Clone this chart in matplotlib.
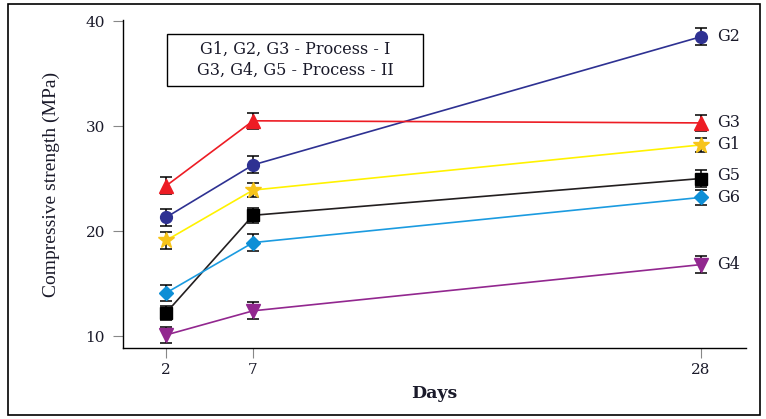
import numpy as np
import matplotlib.pyplot as plt
from matplotlib.patches import Rectangle

days = [2, 7, 28]
groups = ['G1', 'G2', 'G3', 'G4', 'G5', 'G6']
g1 = [19.1, 23.9, 28.2]
g2 = [21.3, 26.3, 38.5]
g3 = [24.3, 30.5, 30.3]
g4 = [10.1, 12.4, 16.8]
g5 = [12.2, 21.5, 25.0]
g6 = [14.1, 18.9, 23.2]
g1_err = [0.8, 0.7, 0.7]
g2_err = [0.8, 0.8, 0.8]
g3_err = [0.8, 0.75, 0.75]
g4_err = [0.75, 0.8, 0.8]
g5_err = [0.7, 0.7, 0.85]
g6_err = [0.75, 0.8, 0.7]

values = [g1, g2, g3, g4, g5, g6]
errors = [g1_err, g2_err, g3_err, g4_err, g5_err, g6_err]
line_colors = ['#fff200', '#2e3192', '#ed1c24', '#92278f', '#231f20', '#1b9be0']
marker_colors = ['#f7c41a', '#2e3192', '#ed1c24', '#92278f', '#000000', '#0e8fd6']
markers = ['*', 'o', '^', 'v', 's', 'D']
msizes = [12, 8.5, 9.5, 9.5, 8, 7.5]
label_dy = [0, 0, 0, 0, 2, 0]
txt = '#1a1a2a'

plt.rcParams['font.family'] = ['DejaVu Serif']

# the day axis in the source is slightly stretched, a mild power scale fits it
p = 1.15
fwd = lambda x: np.sign(x) * np.abs(x) ** p
inv = lambda x: np.sign(x) * np.abs(x) ** (1 / p)

fig = plt.figure(figsize=(7.66, 4.19), dpi=100)
ax = fig.add_axes([0.1606, 0.1695, 0.8133, 0.7827])
ax.set_xscale('function', functions=(fwd, inv))

for i, g in enumerate(groups):
    ax.errorbar(days, values[i], yerr=errors[i], color=line_colors[i], lw=1.2,
                marker=markers[i], ms=msizes[i], mfc=marker_colors[i], mec=marker_colors[i],
                ecolor='black', elinewidth=1.1, capsize=4, capthick=1.1, zorder=3)
    ax.annotate(g, (days[-1], values[i][-1]), xytext=(12, label_dy[i]), textcoords='offset points',
                va='center', ha='left', fontsize=11.5, color=txt)

ax.set_xlim(-1.27, 29.96)
ax.set_ylim(8.86, 40.1)
ax.set_xticks(days)
ax.set_xticks([], minor=True)
ax.set_yticks([10, 20, 30, 40])
ax.tick_params(axis='both', direction='out', length=7, width=0.8, color='#888888',
               labelsize=11, labelcolor=txt)
ax.tick_params(axis='y', pad=6)
for s in ['top', 'right']:
    ax.spines[s].set_visible(False)
for s in ['left', 'bottom']:
    ax.spines[s].set_linewidth(1.0)

ax.set_xlabel('Days', fontsize=12.5, fontweight='bold', labelpad=6, color=txt)
ax.set_ylabel('Compressive strength (MPa)', fontsize=14, labelpad=18, color=txt,
              family=['Liberation Serif'])

ax.add_patch(Rectangle((0.0706, 0.799), 0.411, 0.158, transform=ax.transAxes,
                       fc='white', ec='black', lw=1, zorder=4))
ax.text(0.276, 0.878, 'G1, G2, G3 - Process - I\nG3, G4, G5 - Process - II', transform=ax.transAxes,
        ha='center', va='center', fontsize=11.5, linespacing=1.3, color=txt, zorder=5)

fig.patches.append(Rectangle((8 / 766, 4 / 419), 752 / 766, 411 / 419, transform=fig.transFigure,
                             fill=False, ec='black', lw=1.2))

fig.savefig('out.png', dpi=100)
